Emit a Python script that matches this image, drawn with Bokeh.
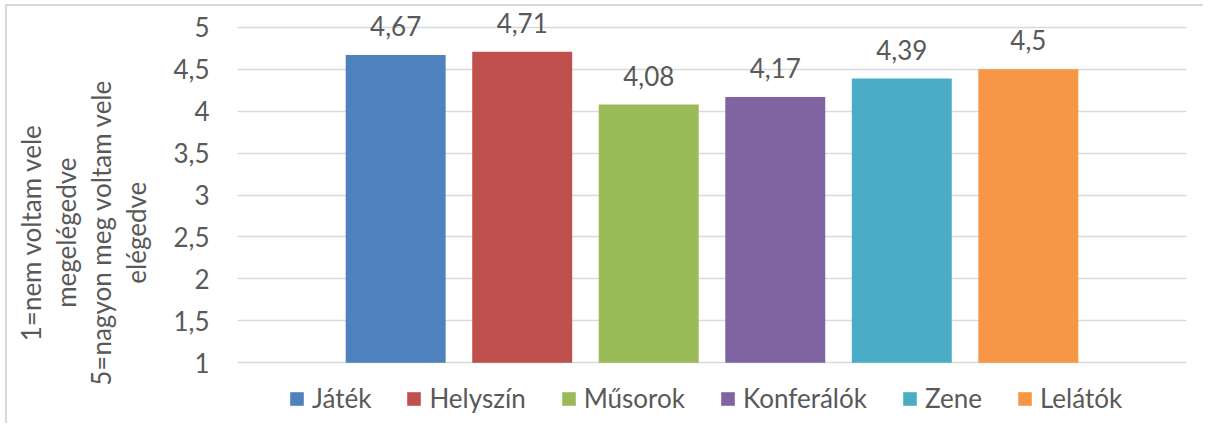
from bokeh.plotting import figure
from bokeh.models import Range1d, Legend, LegendItem, FixedTicker, LinearAxis
from bokeh.core.properties import value
from bokeh.embed import file_html
from bokeh.resources import INLINE

categories = ["Játék", "Helyszín", "Műsorok", "Konferálók", "Zene", "Lelátók"]
values = [4.67, 4.71, 4.08, 4.17, 4.39, 4.5]
value_labels = ["4,67", "4,71", "4,08", "4,17", "4,39", "4,5"]
colors = ["#4F81BD", "#C0504D", "#9BBB59", "#8064A2", "#4BACC6", "#F79646"]
y_ticks = [1, 1.5, 2, 2.5, 3, 3.5, 4, 4.5, 5]
y_tick_labels = ["1", "1,5", "2", "2,5", "3", "3,5", "4", "4,5", "5"]
y_title_lines = ["1=nem voltam vele", "megelégedve", "5=nagyon meg voltam vele", "elégedve"]

FONT = "Lato"
TXT = "#595959"
FS = "26px"

# the plot area extends above 5 (value labels) and below 1 (legend)
p = figure(width=1198, height=419, output_backend="svg", toolbar_location=None,
           x_range=Range1d(-0.25, 7.25), y_range=Range1d(0.25, 5.25),
           x_axis_type=None,
           min_border_left=230, min_border_right=19, min_border_top=0, min_border_bottom=0)
p.outline_line_color = None
p.styles = {"border-left": "2px solid #D9D9D9", "border-top": "2px solid #D9D9D9",
            "margin-left": "5px", "margin-top": "4px"}

p.ygrid.grid_line_color = "#D9D9D9"
p.ygrid.grid_line_width = 1.3
yax = p.yaxis[0]
yax.ticker = FixedTicker(ticks=y_ticks)
yax.major_label_overrides = dict(zip(y_ticks, y_tick_labels))
yax.axis_line_color = None
yax.major_tick_line_color = None
yax.minor_tick_line_color = None
yax.major_tick_out = 0
yax.major_label_standoff = 28
yax.major_label_text_font = FONT
yax.major_label_text_font_size = FS
yax.major_label_text_color = TXT

# y-axis title: one text line per (invisible) axis, innermost line first;
# trailing no-break spaces move the visible text a little down the side
PAD = "\u00a0" * 5
standoffs = [19, 0, 0, 0]
for line, so in zip(reversed(y_title_lines), standoffs):
    ax = LinearAxis(ticker=FixedTicker(ticks=[1], minor_ticks=[]),
                    major_label_overrides={1: ""},
                    axis_line_color=None, major_tick_line_color=None,
                    major_tick_out=0, major_tick_in=0, minor_tick_out=0,
                    major_label_standoff=0, axis_label=line + PAD, axis_label_standoff=so,
                    axis_label_text_font=FONT, axis_label_text_font_size=FS,
                    axis_label_text_font_style="normal", axis_label_text_color=TXT)
    p.add_layout(ax, "left")

xs = [i + 1 for i in range(len(categories))]
items = []
for x, cat, v, c in zip(xs, categories, values, colors):
    r = p.vbar(x=[x], top=[v], bottom=1, width=0.79, fill_color=c, line_color=None)
    items.append(LegendItem(label=cat, renderers=[r]))

p.text(x=xs, y=values, text=value_labels, text_align="center", text_baseline="alphabetic",
       y_offset=-29, text_font=value(FONT), text_font_size=FS, text_color=TXT)

legend = Legend(items=items, orientation="horizontal", location=(51, 11),
                label_text_font=FONT, label_text_font_size=FS, label_text_color=TXT,
                glyph_width=17, glyph_height=17, label_standoff=7, spacing=34,
                padding=0, margin=0, border_line_color=None, background_fill_alpha=0)
p.add_layout(legend)

open("out.html", "w").write(file_html(p, INLINE))
